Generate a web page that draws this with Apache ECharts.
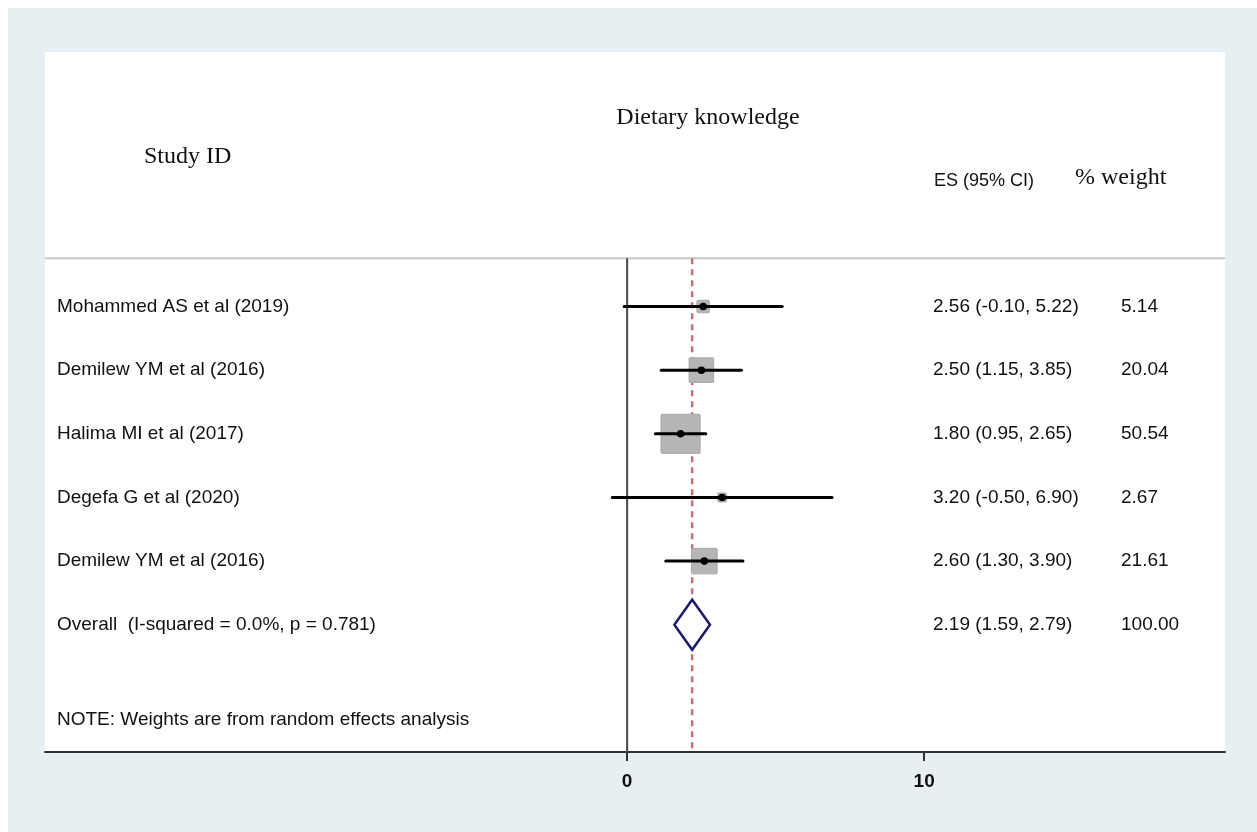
<!DOCTYPE html>
<html>
<head>
<meta charset="utf-8">
<script src="https://cdn.jsdelivr.net/npm/echarts@6/dist/echarts.min.js"></script>
<style>
  html, body { margin: 0; padding: 0; background: #ffffff; }
  #frame { position: absolute; left: 8px; top: 8px; width: 1249px; height: 824px; background: #e8eff2; }
  #chart { position: absolute; left: 0; top: 0; width: 1257px; height: 832px; }
</style>
</head>
<body>
<div id="frame"></div>
<div id="chart"></div>
<script>
// Study-level estimates
const studies = [
  'Mohammed AS et al (2019)',
  'Demilew YM et al (2016)',
  'Halima MI et al (2017)',
  'Degefa G et al (2020)',
  'Demilew YM et al (2016)'
];
const es = [2.56, 2.50, 1.80, 3.20, 2.60];
const lower = [-0.10, 1.15, 0.95, -0.50, 1.30];
const upper = [5.22, 3.85, 2.65, 6.90, 3.90];
const weights = [5.14, 20.04, 50.54, 2.67, 21.61];

// Pooled (random effects) estimate
const overallLabel = 'Overall  (I-squared = 0.0%, p = 0.781)';
const overallEs = 2.19;
const overallLower = 1.59;
const overallUpper = 2.79;
const overallWeight = 100.00;

const noteText = 'NOTE: Weights are from random effects analysis';
const xTicks = [0, 10];

// Row positions on the vertical scale (top to bottom)
const rowPos = [1, 2, 3, 4, 5];
const overallPos = 6;
const notePos = 7.5;
const headerLinePos = 0.24;
const yMin = -3, yMax = 8;

const X_MIN = -19.6, X_MAX = 20.13;

const SANS = '"Liberation Sans", Arial, sans-serif';
const SERIF = '"Liberation Serif", "Times New Roman", serif';

const fmt = v => v.toFixed(2);
const ciText = (e, l, u) => fmt(e) + ' (' + fmt(l) + ', ' + fmt(u) + ')';

const studyData = studies.map((s, i) => [es[i], rowPos[i], lower[i], upper[i], weights[i], i]);

const chart = echarts.init(document.getElementById('chart'), null, { renderer: 'canvas' });

const textCol = { label: 57, ci: 933, weight: 1121 };

function textEl(x, y, str, extra) {
  return {
    type: 'text',
    x: x, y: y,
    style: Object.assign({
      text: str, fill: '#111', font: '19px ' + SANS,
      textAlign: 'left', textVerticalAlign: 'middle'
    }, extra || {})
  };
}

const option = {
  animation: false,
  backgroundColor: 'transparent',
  grid: {
    left: 45, right: 32, top: 52, bottom: 80,
    show: true, backgroundColor: '#ffffff', borderWidth: 0
  },
  xAxis: {
    type: 'value',
    min: X_MIN, max: X_MAX,
    axisLine: { show: true, onZero: false, lineStyle: { color: '#333', width: 2 } },
    axisTick: { show: true, length: 9, lineStyle: { color: '#333', width: 2 }, customValues: xTicks },
    axisLabel: {
      customValues: xTicks, margin: 20,
      color: '#111', fontSize: 19, fontWeight: 'bold', fontFamily: SANS
    },
    splitLine: { show: false }
  },
  yAxis: {
    type: 'value', min: yMin, max: yMax, inverse: true, show: false
  },
  graphic: [
    { type: 'text', x: 708, y: 118, style: { text: 'Dietary knowledge', font: '24px ' + SERIF, fill: '#111', textAlign: 'center', textVerticalAlign: 'middle' } },
    { type: 'text', x: 144, y: 157, style: { text: 'Study ID', font: '24px ' + SERIF, fill: '#111', textAlign: 'left', textVerticalAlign: 'middle' } },
    { type: 'text', x: 934, y: 181, style: { text: 'ES (95% CI)', font: '18px ' + SANS, fill: '#111', textAlign: 'left', textVerticalAlign: 'middle' } },
    { type: 'text', x: 1075, y: 178, style: { text: '% weight', font: '24px ' + SERIF, fill: '#111', textAlign: 'left', textVerticalAlign: 'middle' } }
  ],
  series: [
    // Header separator
    {
      type: 'line', silent: true, symbol: 'none', z: 1,
      data: [[X_MIN, headerLinePos], [X_MAX, headerLinePos]],
      lineStyle: { color: '#c8c8c8', width: 2 }
    },
    // Line of no effect
    {
      type: 'line', silent: true, symbol: 'none', z: 2,
      data: [[0, headerLinePos], [0, yMax]],
      lineStyle: { color: '#4a4a4a', width: 2 }
    },
    // Pooled estimate reference line
    {
      type: 'line', silent: true, symbol: 'none', z: 3,
      data: [[overallEs, headerLinePos], [overallEs, yMax]],
      lineStyle: { color: '#c4707a', width: 2.5, type: [6, 5] }
    },
    // Study rows: weight box, CI line, point estimate, and text columns
    {
      type: 'custom', z: 5,
      data: studyData,
      renderItem: function (params, api) {
        const e = api.value(0), row = api.value(1), lo = api.value(2), hi = api.value(3), w = api.value(4);
        const i = api.value(5);
        const c = api.coord([e, row]);
        const pl = api.coord([lo, row]);
        const ph = api.coord([hi, row]);
        const side = 5.5 * Math.sqrt(w);
        return {
          type: 'group',
          children: [
            { type: 'rect', shape: { x: c[0] - side / 2, y: c[1] - side / 2, width: side, height: side, r: 1 },
              style: { fill: '#b5b5b5', stroke: '#a8a8a8', lineWidth: 1 } },
            { type: 'line', shape: { x1: pl[0], y1: c[1], x2: ph[0], y2: c[1] },
              style: { stroke: '#000', lineWidth: 3, lineCap: 'round' } },
            { type: 'circle', shape: { cx: c[0], cy: c[1], r: 3.8 }, style: { fill: '#000' } },
            textEl(textCol.label, c[1], studies[i]),
            textEl(textCol.ci, c[1], ciText(e, lo, hi)),
            textEl(textCol.weight, c[1], fmt(w))
          ]
        };
      }
    },
    // Overall diamond with its text
    {
      type: 'custom', z: 6,
      data: [[overallEs, overallPos, overallLower, overallUpper, overallWeight]],
      renderItem: function (params, api) {
        const e = api.value(0), row = api.value(1), lo = api.value(2), hi = api.value(3), w = api.value(4);
        const c = api.coord([e, row]);
        const pl = api.coord([lo, row]);
        const ph = api.coord([hi, row]);
        const hh = 25;
        return {
          type: 'group',
          children: [
            { type: 'polygon', shape: { points: [[pl[0], c[1]], [c[0], c[1] - hh], [ph[0], c[1]], [c[0], c[1] + hh]] },
              style: { fill: '#ffffff', stroke: '#1c1c66', lineWidth: 2.5, lineJoin: 'miter' } },
            textEl(textCol.label, c[1], overallLabel),
            textEl(textCol.ci, c[1], ciText(e, lo, hi)),
            textEl(textCol.weight, c[1], fmt(w))
          ]
        };
      }
    },
    // Footnote
    {
      type: 'custom', z: 6,
      data: [[X_MIN, notePos]],
      renderItem: function (params, api) {
        const c = api.coord([api.value(0), api.value(1)]);
        return textEl(textCol.label, c[1], noteText);
      }
    }
  ]
};

chart.setOption(option);
</script>
</body>
</html>
